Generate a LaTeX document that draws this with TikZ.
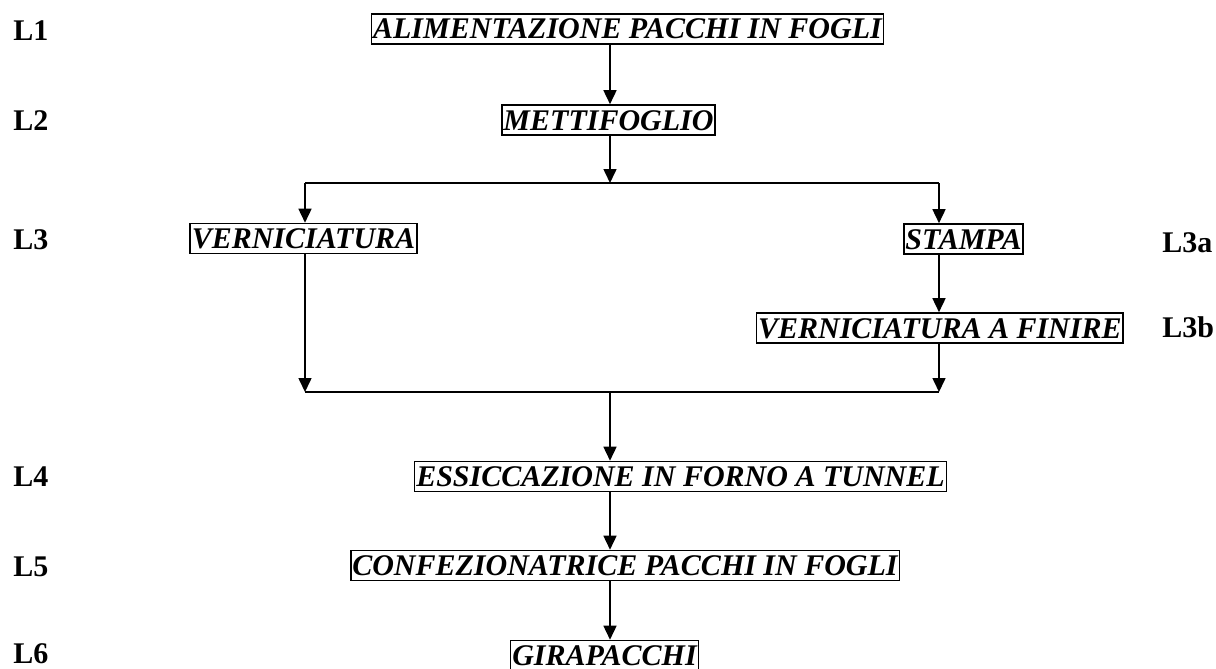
\documentclass[tikz,border=0pt]{standalone}
\usepackage{fontspec}
\setmainfont{Liberation Serif}
\usetikzlibrary{arrows.meta}
\tikzset{
  stepbox/.style={draw, line width=0.8pt, inner xsep=0.8pt, inner ysep=0pt,
    text height=12.5pt, text depth=2.5pt,
    font=\fontsize{15}{18}\selectfont\bfseries\itshape},
  linelabel/.style={anchor=base west, inner sep=0pt,
    font=\fontsize{15}{18}\selectfont\bfseries},
  flow/.style={line width=0.8pt, -{Triangle[width=6.5pt,length=7pt]}},
  joint/.style={line width=0.8pt}
}
\begin{document}
\begin{tikzpicture}[x=0.5pt,y=-0.5pt]
                            \useasboundingbox (0,0) rectangle (1216,669);
                            
                            % Columns of the connectors
                            \coordinate (midcol) at (610,0);%
                            \coordinate (leftcol) at (305,0);%
                            \coordinate (rightcol) at (939,0);%
                            
                            % Line labels on the left
                            \node [linelabel] (l1) at (13,40) {L1};%
                            \node [linelabel] (l2) at (13,130) {L2};%
                            \node [linelabel] (l3) at (13,249) {L3};%
                            \node [linelabel] (l4) at (13,486) {L4};%
                            \node [linelabel] (l5) at (13,576) {L5};%
                            \node [linelabel] (l6) at (13,663) {L6};%
                            
                            % Line labels on the right
                            \node [linelabel] (l3a) at (1162,252) {L3a};%
                            \node [linelabel] (l3b) at (1162,337) {L3b};%
                            
                            % Boxes of the machines
                            \node [stepbox] (feed) at (627.5,29) {ALIMENTAZIONE PACCHI IN FOGLI};%
                            \node [stepbox] (feeder) at (608.5,120) {METTIFOGLIO};%
                            \node [stepbox] (varnish) at (303.5,238.5) {VERNICIATURA};%
                            \node [stepbox] (print) at (963.5,239) {STAMPA};%
                            \node [stepbox, anchor=east] (finish) at (1124,328) {VERNICIATURA A FINIRE};%
                            \node [stepbox] (dryer) at (680.5,476.5) {ESSICCAZIONE IN FORNO A TUNNEL};%
                            \node [stepbox] (packer) at (625,565.5) {CONFEZIONATRICE PACCHI IN FOGLI};%
                            \node [stepbox] (turner) at (604.5,655.5) {GIRAPACCHI};%
                            
                            % Branch points
                            \coordinate (split) at (midcol |- 0,183);%
                            \coordinate (merge) at (midcol |- 0,392);%
                            
                            % Drawing connectors feed -> feeder -> split
                            \draw [flow] (feed.south -| midcol) -- (feeder.north -| midcol);%
                            \draw [flow] (feeder.south -| midcol) -- (split);%
                            
                            % Drawing the split to the two lines
                            \draw [joint] (split -| leftcol) -- (split -| rightcol);%
                            \draw [flow] (split -| leftcol) -- (varnish.north -| leftcol);%
                            \draw [flow] (split -| rightcol) -- (print.north -| rightcol);%
                            \draw [flow] (print.south -| rightcol) -- (finish.north -| rightcol);%
                            
                            % Drawing the merge of the two lines
                            \draw [flow] (varnish.south -| leftcol) -- (merge -| leftcol);%
                            \draw [flow] (finish.south -| rightcol) -- (merge -| rightcol);%
                            \draw [joint] (merge -| leftcol) -- (merge -| rightcol);%
                            
                            % Drawing connectors merge -> dryer -> packer -> turner
                            \draw [flow] (merge) -- (dryer.north -| midcol);%
                            \draw [flow] (dryer.south -| midcol) -- (packer.north -| midcol);%
                            \draw [flow] (packer.south -| midcol) -- (turner.north -| midcol);%
                        \end{tikzpicture}
\end{document}
